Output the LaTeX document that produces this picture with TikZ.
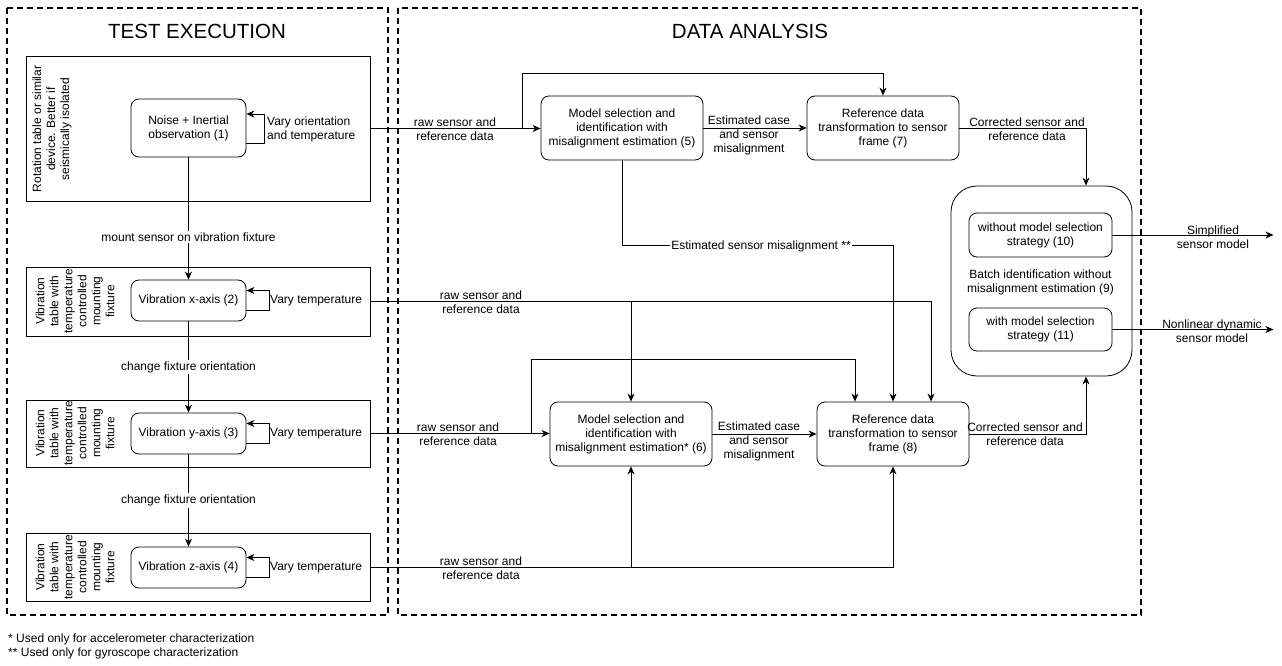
\documentclass[tikz,border=0pt]{standalone}
\usepackage{fontspec}
\setmainfont{Liberation Sans}
\usetikzlibrary{arrows.meta,calc}
\begin{document}
\begin{tikzpicture}[x=1pt,y=-1pt,
  every node/.style={font=\fontsize{12}{14}\selectfont, align=center, inner sep=0pt},
  proc/.style={draw, line width=0.8pt, rounded corners=8pt},
  frame/.style={draw, line width=0.8pt},
  region/.style={draw, line width=1.6pt, dash pattern=on 6pt off 4pt},
  arr/.style={draw, line width=0.8pt, -{Stealth[length=8pt,width=7pt,inset=2.5pt]}},
  wlbl/.style={fill=white, inner sep=1.5pt},
  title/.style={font=\fontsize{20.5}{24}\selectfont}]
\useasboundingbox (0,0) rectangle (1282,666);

% regions
\draw[region] (7,8) rectangle (388,615);
\draw[region] (398,8) rectangle (1141,615);
\node[title] (t1) at (197,31) {TEST EXECUTION};
\node[title] (t2) at (750,31) {DATA ANALYSIS};

% frames (test setups)
\node[frame, minimum width=344pt, minimum height=145pt] (f1) at (198,128.5) {};
\node[frame, minimum width=344pt, minimum height=69pt] (f2) at (198,301.5) {};
\node[frame, minimum width=344pt, minimum height=67pt] (f3) at (198,433.5) {};
\node[frame, minimum width=344pt, minimum height=68pt] (f4) at (198,567) {};
\node[rotate=90] (r1) at (52,129) {Rotation table or similar\\device. Better if\\seismically isolated};
\node[rotate=90] (r2) at (75,301) {Vibration\\table with\\temperature\\controlled\\mounting\\fixture};
\node[rotate=90] (r3) at (75,433) {Vibration\\table with\\temperature\\controlled\\mounting\\fixture};
\node[rotate=90] (r4) at (75,567) {Vibration\\table with\\temperature\\controlled\\mounting\\fixture};

% test nodes
\node[proc, minimum width=115pt, minimum height=58pt] (n1) at (188.5,128) {Noise + Inertial\\observation (1)};
\node[proc, minimum width=115pt, minimum height=41pt] (n2) at (188.5,300.5) {Vibration x-axis (2)};
\node[proc, minimum width=115pt, minimum height=41pt] (n3) at (188.5,433.5) {Vibration y-axis (3)};
\node[proc, minimum width=115pt, minimum height=41pt] (n4) at (188.5,567.5) {Vibration z-axis (4)};

% self loops
\draw[arr] ([yshift=-15pt]n1.east) -- ++(18,0) |- ([yshift=14pt]n1.east);
\node[anchor=west, align=left] (v1) at (267,129) {Vary orientation\\and temperature};
\draw[arr] ([yshift=-10pt]n2.east) -- ++(23,0) |- ([yshift=10pt]n2.east);
\node[anchor=west] (v2) at (270,301) {Vary temperature};
\draw[arr] ([yshift=-10pt]n3.east) -- ++(23,0) |- ([yshift=10pt]n3.east);
\node[anchor=west] (v3) at (270,434) {Vary temperature};
\draw[arr] ([yshift=-10pt]n4.east) -- ++(23,0) |- ([yshift=10pt]n4.east);
\node[anchor=west] (v4) at (270,567.5) {Vary temperature};

% vertical test flow
\draw[arr] (n1.south) -- (n2.north) node[wlbl, pos=0.65] {mount sensor on vibration fixture};
\draw[arr] (n2.south) -- (n3.north) node[wlbl, midway] {change fixture orientation};
\draw[arr] (n3.south) -- (n4.north) node[wlbl, midway] {change fixture orientation};

% analysis nodes
\node[proc, minimum width=162pt, minimum height=64pt] (n5) at (622,128) {Model selection and\\identification with\\misalignment estimation (5)};
\node[proc, minimum width=152pt, minimum height=64pt] (n7) at (883,128) {Reference data\\transformation to sensor\\frame (7)};
\node[proc, minimum width=162pt, minimum height=64pt] (n6) at (631,434) {Model selection and\\identification with\\misalignment estimation* (6)};
\node[proc, minimum width=152pt, minimum height=64pt] (n8) at (893,434) {Reference data\\transformation to sensor\\frame (8)};
\node[draw, line width=0.8pt, rounded corners=26pt, minimum width=181pt, minimum height=190pt] (n9) at (1041.5,281) {};
\node (n9l) at (1040.5,282) {Batch identification without\\misalignment estimation (9)};
\node[proc, minimum width=143pt, minimum height=44pt] (n10) at (1040.5,235) {without model selection\\strategy (10)};
\node[proc, minimum width=143pt, minimum height=43pt] (n11) at (1040.5,329.5) {with model selection\\strategy (11)};

% row 1
\coordinate (b1) at (522,128.5);
\draw[arr] (f1.east) -- (f1.east -| n5.west);
\node (l1) at (455,129) {raw sensor and\\reference data};
\draw[arr] (b1) -- ++(0,-55.5) -| (n7.north);
\draw[arr] (n5.east) -- (n7.west);
\node (l57) at (749,135) {Estimated case\\and sensor\\misalignment};
\draw[arr] (n7.east) -| ([xshift=44.5pt]n9.north);
\node (l79) at (1027,129) {Corrected sensor and\\reference data};
\draw[arr] (n5.south) |- ([yshift=156pt]n8.north) -- (n8.north);
\node[wlbl] (lm) at (761,246) {Estimated sensor misalignment **};

% row 2
\draw[arr] (f2.east) -| ([xshift=38pt]n8.north);
\draw[arr] (f2.east -| n6.north) -- (n6.north);
\node (l2) at (481,302) {raw sensor and\\reference data};

% row 3
\coordinate (b3) at (531,434);
\draw[arr] (f3.east) -- (f3.east -| n6.west);
\node (l3) at (458,434) {raw sensor and\\reference data};
\draw[arr] (b3) -- ++(0,-75) -| ([xshift=-38pt]n8.north);
\draw[arr] (n6.east) -- (n8.west);
\node (l68) at (759,441) {Estimated case\\and sensor\\misalignment};
\draw[arr] (n8.east) -| ([xshift=44.5pt]n9.south);
\node (l89) at (1025,434) {Corrected sensor and\\reference data};

% row 4
\draw[arr] (f4.east) -| (n8.south);
\draw[arr] (f4.east -| n6.south) -- (n6.south);
\node (l4) at (481,568) {raw sensor and\\reference data};

% outputs
\draw[arr] (n10.east) -- ++(161,0);
\node (o10) at (1213,237) {Simplified\\sensor model};
\draw[arr] (n11.east) -- ++(161,0);
\node (o11) at (1212,331) {Nonlinear dynamic\\sensor model};

% footnotes
\node[anchor=west, font=\fontsize{12}{13}\selectfont] (fn1) at (8,639) {* Used only for accelerometer characterization};
\node[anchor=west, font=\fontsize{12}{13}\selectfont] (fn2) at (8,653) {** Used only for gyroscope characterization};
\end{tikzpicture}
\end{document}
